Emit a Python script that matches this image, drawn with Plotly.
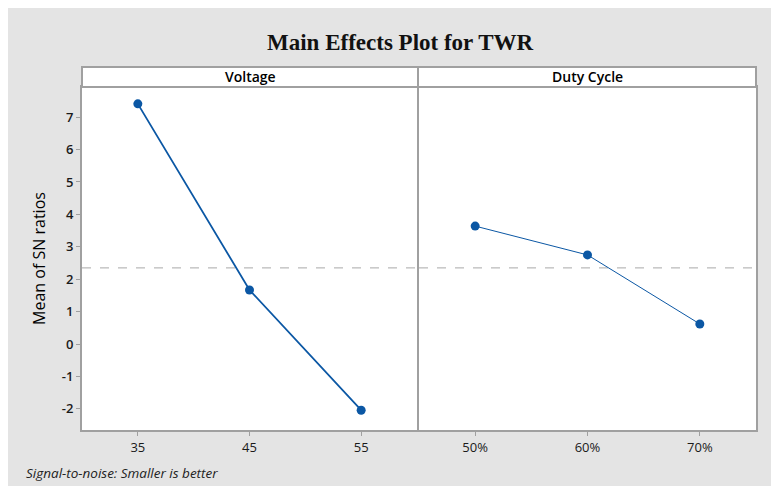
import plotly.graph_objects as go

# ---- data ----
voltage_levels = [35, 45, 55]
voltage_sn = [7.41, 1.67, -2.04]
duty_levels = ["50%", "60%", "70%"]
duty_sn = [3.64, 2.75, 0.62]
y_ticks = [-2, -1, 0, 1, 2, 3, 4, 5, 6, 7]
y_ticktext = [str(v) for v in y_ticks]
overall_mean = 2.35

OFF = 8  # page body margin
W, H = 779 - OFF, 486 - OFF
L, R, T, B = 82 - OFF, 23, 87 - OFF, 56
pw = W - L - R
ph = H - T - B

def px_x(x):
    return (x - OFF - L) / pw

def px_y(y):
    return (H - B - (y - OFF)) / ph

split = px_x(418)
one = 1.0 / pw
blue = "#0b57a4"
gridc = "#a0a0a0"
tickfont = dict(family="Open Sans, Noto Sans, sans-serif", size=13, color="#1a1a1a")

fig = go.Figure()
fig.add_trace(go.Scatter(x=voltage_levels, y=voltage_sn, mode="lines+markers",
                         line=dict(color=blue, width=1.8),
                         marker=dict(color=blue, size=9),
                         xaxis="x", yaxis="y", showlegend=False))
fig.add_trace(go.Scatter(x=duty_levels, y=duty_sn, mode="lines+markers",
                         line=dict(color=blue, width=1.0),
                         marker=dict(color=blue, size=9),
                         xaxis="x2", yaxis="y2", showlegend=False))

yrange = [-2.65, 7.93]
axis_common = dict(showgrid=False, zeroline=False, showline=True, linecolor=gridc,
                   linewidth=2, mirror=True, ticks="outside", ticklen=4,
                   tickcolor=gridc, tickfont=tickfont)

fig.update_layout(
    width=W, height=H,
    margin=dict(l=L, r=R, t=T, b=B),
    paper_bgcolor="#e4e4e4",
    plot_bgcolor="white",
    xaxis=dict(domain=[0, split - one], range=[30, 60], tickvals=voltage_levels, **axis_common),
    xaxis2=dict(domain=[split + one, 1], range=[-0.5, 2.5], type="category", anchor="y2",
                **axis_common),
    yaxis=dict(range=yrange, tickvals=y_ticks, ticktext=y_ticktext,
               title=dict(text="Mean of SN ratios", standoff=12,
                          font=dict(family="Open Sans, Noto Sans, sans-serif", size=16, color="black")),
               **{**axis_common, "tickfont": dict(tickfont, weight=600)}),
    yaxis2=dict(range=yrange, anchor="x2", showticklabels=False, ticks="",
                showgrid=False, zeroline=False, showline=True, linecolor=gridc,
                linewidth=2, mirror=True),
)

shapes = []
# strips
for x0, x1 in [(0, split), (split, 1)]:
    shapes.append(dict(type="rect", xref="paper", yref="paper",
                       x0=x0, x1=x1, y0=1, y1=px_y(67),
                       fillcolor="white", line=dict(color=gridc, width=2)))
# mean lines
for xr, yr in [("x domain", "y"), ("x2 domain", "y2")]:
    shapes.append(dict(type="line", xref=xr, yref=yr, x0=0, x1=1,
                       y0=overall_mean, y1=overall_mean,
                       line=dict(color="#a8a8a8", width=1, dash="dash"), layer="below"))
fig.update_layout(shapes=shapes)

strip_font = dict(family="Open Sans, Noto Sans, sans-serif", size=14, color="black", weight=600)
ann = [
    dict(text="Voltage", x=split / 2, y=px_y(77), xref="paper", yref="paper",
         showarrow=False, font=strip_font, xanchor="center", yanchor="middle"),
    dict(text="Duty Cycle", x=(split + 1) / 2, y=px_y(77), xref="paper", yref="paper",
         showarrow=False, font=strip_font, xanchor="center", yanchor="middle"),
    dict(text="<b>Main Effects Plot for TWR</b>", x=px_x(400), y=px_y(43),
         xref="paper", yref="paper", showarrow=False, xanchor="center", yanchor="middle",
         font=dict(family="Liberation Serif, Times New Roman, serif", size=23, color="#111111")),
    dict(text="<i>Signal-to-noise: Smaller is better</i>", x=px_x(24), y=px_y(473),
         xref="paper", yref="paper", showarrow=False, xanchor="left", yanchor="middle",
         font=dict(family="Open Sans, Noto Sans, sans-serif", size=13.5, color="#222222")),
]
fig.update_layout(annotations=ann)

fig.write_html("out.html")
